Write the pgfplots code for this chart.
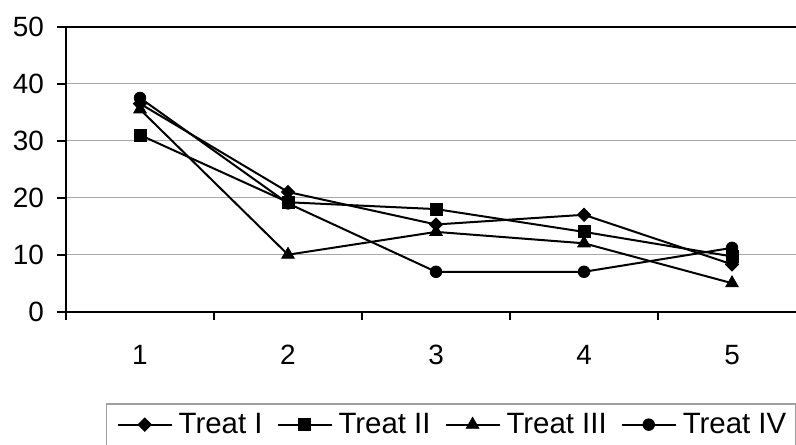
\documentclass[border=0pt]{standalone}
\usepackage{fontspec}
\setmainfont{Liberation Sans}
\usepackage{pgfplots}
\pgfplotsset{compat=1.18}
\definecolor{gridgray}{RGB}{168,168,168}
\definecolor{leggray}{RGB}{160,160,160}
\begin{document}
\begin{tikzpicture}[x=1bp,y=1bp]
\useasboundingbox (0,0) rectangle (796,445);
\clip (0,0) rectangle (796,445);
\begin{axis}[
  at={(66bp,133.3bp)}, anchor=south west,
  scale only axis, width=740bp, height=285bp,
  xmin=0.5, xmax=5.5, ymin=0, ymax=50,
  axis line style={black, line width=2bp},
  xtick={1,2,3,4,5},
  minor xtick={0.5,1.5,2.5,3.5,4.5,5.5},
  ytick={0,10,20,30,40,50},
  xtick pos=bottom, ytick pos=left,
  tick align=outside,
  major x tick style={draw=none},
  minor x tick style={black, line width=1.8bp},
  y tick style={black, line width=1.8bp},
  major tick length=9bp,
  minor tick length=8bp,
  ymajorgrids,
  major grid style={gridgray, line width=1.6bp},
  /pgf/number format/assume math mode=true,
  ticklabel style={font=\fontsize{28}{34}\selectfont},
  yticklabel style={anchor=east, inner sep=0pt, xshift=-13bp},
  xticklabel style={anchor=north, inner sep=0pt, yshift=-24bp},
  legend columns=4,
  legend style={at={(axis description cs:0.05405,-0.3204)}, anchor=north west,
    draw=leggray, line width=1.5bp, inner xsep=10bp, inner ysep=10bp,
    font=\fontsize{29.5}{35}\selectfont,
    nodes={inner sep=0pt},
    /tikz/every odd column/.append style={column sep=6bp},
    /tikz/every even column/.append style={column sep=14bp}},
  legend cell align=left,
  legend image code/.code={\draw[mark repeat=2,mark phase=2,#1] plot coordinates {(0bp,0bp)(27bp,0bp)(54bp,0bp)};},
]
\addplot[black, line width=2bp, mark=square*, mark size=4.7bp, mark options={solid, fill=black, line width=0.8bp, rotate=45}] coordinates {(1,36.5) (2,21) (3,15.3) (4,17) (5,8.3)};
\addlegendentry{Treat I}
\addplot[black, line width=2bp, mark=square*, mark size=6bp, mark options={solid, fill=black, line width=0.8bp}] coordinates {(1,31) (2,19.2) (3,18) (4,14) (5,9.7)};
\addlegendentry{Treat II}
\addplot[black, line width=2bp, mark=triangle*, mark size=7.3bp, mark options={solid, fill=black, line width=0.8bp}] coordinates {(1,35.5) (2,10) (3,14) (4,12) (5,5)};
\addlegendentry{Treat III}
\addplot[black, line width=2bp, mark=*, mark size=5.8bp, mark options={solid, fill=black, line width=0.8bp}] coordinates {(1,37.5) (2,19) (3,7) (4,7) (5,11.2)};
\addlegendentry{Treat IV}
\end{axis}
\end{tikzpicture}
\end{document}
